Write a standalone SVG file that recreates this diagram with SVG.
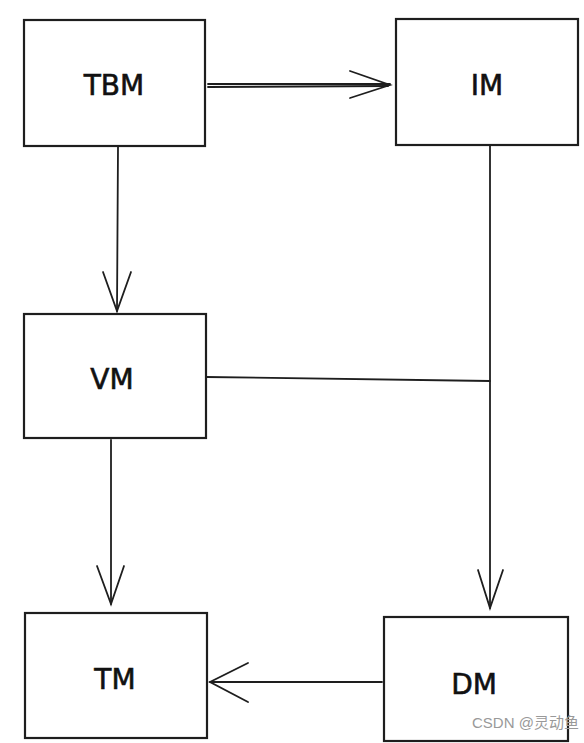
<svg xmlns="http://www.w3.org/2000/svg" width="584" height="743" viewBox="0 0 584 743">
<style>
.box{fill:#fff;stroke:#1e1e1e;stroke-width:2.2}
.lbl{font-family:"DejaVu Sans","Liberation Sans",sans-serif;font-size:28px;fill:#111;stroke:#111;stroke-width:0.6;text-anchor:middle;dominant-baseline:central}
.conn{fill:none;stroke:#1e1e1e;stroke-width:1.8;stroke-linecap:round}
.wm{font-family:"Liberation Sans","Noto Sans CJK SC",sans-serif;font-size:15px;fill:#999}
</style>
<rect width="584" height="743" fill="#fff"/>
<g id="connectors">
<path class="conn" d="M208 84 L390 84 M208 87 L388 86"/>
<path class="conn" d="M350 71 L390 85 L350 98"/>
<path class="conn" d="M118 147 L117 311"/>
<path class="conn" d="M103 272 L117 311 L131 272"/>
<path class="conn" d="M490 146 L490 608"/>
<path class="conn" d="M478 570 L490 608 L503 570"/>
<path class="conn" d="M206 377 L490 381"/>
<path class="conn" d="M111 440 L111 604"/>
<path class="conn" d="M97 566 L111 604 L124 566"/>
<path class="conn" d="M382 682 L210 682"/>
<path class="conn" d="M248 663 L210 682 L248 702"/>
</g>
<g id="TBM"><rect class="box" x="24" y="20" width="181" height="126"/><text class="lbl" x="114" y="85">TBM</text></g>
<g id="IM"><rect class="box" x="396" y="19" width="182" height="126"/><text class="lbl" x="487" y="85">IM</text></g>
<g id="VM"><rect class="box" x="24" y="314" width="182" height="124"/><text class="lbl" x="112" y="379">VM</text></g>
<g id="TM"><rect class="box" x="25" y="613" width="182" height="125"/><text class="lbl" x="115" y="679">TM</text></g>
<g id="DM"><rect class="box" x="384" y="617" width="184" height="124"/><text class="lbl" x="474" y="684">DM</text></g>
<text class="wm" x="472" y="728">CSDN @灵动鱼</text>
</svg>
